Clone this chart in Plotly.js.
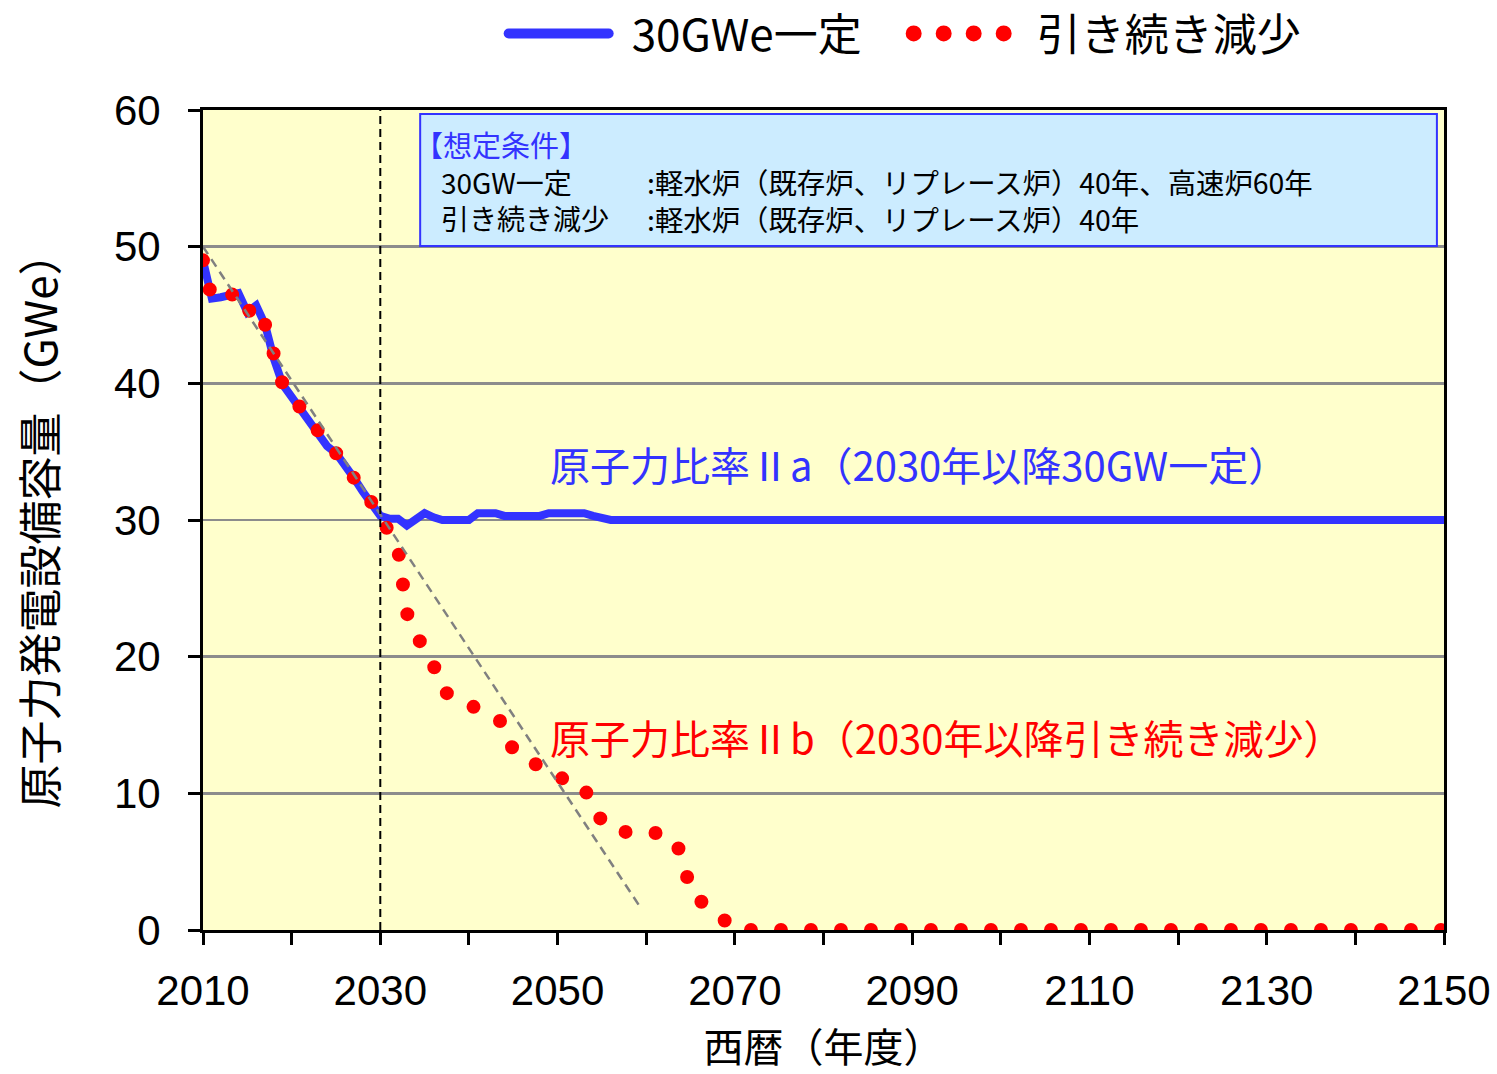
<!DOCTYPE html>
<html><head><meta charset="utf-8">
<script src="https://cdn.plot.ly/plotly-3.0.1.min.js"></script>
<style>body{margin:0;background:#fff}#chart{width:1497px;height:1074px}</style>
</head><body><div id="chart"></div>
<script>
// ---- data ----
const seriesNames = ['30GWe一定', '引き続き減少'];
const blueYears = [2010,2011,2012,2013,2014,2015,2016,2017,2018,2019,2020,2021,2022,2023,2024,2025,2026,2027,2028,2029,2030,
  2031,2032,2033,2034,2035,2036,2037,2038,2039,2040,2041,2042,2043,2044,2045,2046,2047,2048,2049,2050,2051,2052,2053,2054,2055,2056,2150];
const blueValues = [49.0,46.2,46.3,46.4,46.6,45.2,45.7,44.3,41.8,39.9,39.0,38.3,37.4,36.5,35.4,34.9,34.1,33.1,32.1,31.3,30.3,
  30.1,30.1,29.6,30.1,30.5,30.2,30.0,30.0,30.0,30.0,30.5,30.5,30.5,30.3,30.3,30.3,30.3,30.3,30.5,30.5,30.5,30.5,30.5,30.3,30.2,30.0,30.0];
const redYears = [2010,2011,2012,2013,2014,2015,2016,2017,2018,2019,2020,2021,2022,2023,2024,2025,2026,2027,2028,2029,2030,
  2031,2032,2033,2034,2035,2036,2037,2038,2039,2040,2041,2042,2043,2044,2045,2046,2047,2048,2049,2050,
  2051,2052,2053,2054,2055,2056,2057,2058,2059,2060,2061,2062,2063,2064,2065,2066,2067,2068,2069,2070,2150];
const redValues = [49.0,46.2,46.3,46.4,46.6,45.2,45.7,44.3,41.8,39.9,39.0,38.3,37.4,36.5,35.4,34.9,34.1,33.1,32.1,31.3,30.3,
  29.0,27.9,23.2,21.5,20.7,19.4,17.5,17.2,16.9,16.6,16.3,15.9,15.5,15.1,13.1,12.7,12.3,11.9,11.4,11.2,
  11.0,10.8,10.5,8.7,7.9,7.4,7.2,7.1,7.1,7.1,7.1,7.1,6.6,5.6,2.8,2.1,1.6,1.2,0.5,0.0,0.0];
const trendYears = [2010, 2059.4];
const trendValues = [50, 1.6];
const splitYear = 2030;
const xTickVals = [2010,2030,2050,2070,2090,2110,2130,2150];
const yTickVals = [0,10,20,30,40,50,60];
const labelA = '原子力比率Ⅱa（2030年以降30GW一定）';
const labelB = '原子力比率Ⅱb（2030年以降引き続き減少）';
const boxTitle = '【想定条件】';
const boxKeys = ['30GW一定', '引き続き減少'];
const boxVals = [':軽水炉（既存炉、リプレース炉）40年、高速炉60年', ':軽水炉（既存炉、リプレース炉）40年'];

// ---- chart ----
const CJK = '"Noto Sans CJK JP", "Noto Sans", sans-serif';
const LAT = '"Liberation Sans", Arial, sans-serif';
const BLUE = '#3333FF', RED = '#FF0000';

const data = [
  {x: blueYears, y: blueValues, type: 'scatter', mode: 'lines', name: seriesNames[0],
   line: {color: BLUE, width: 8}},
  {x: redYears, y: redValues, type: 'scatter', mode: 'lines', name: seriesNames[1],
   line: {color: RED, width: 14, dash: '0px,30px'}},
  {x: trendYears, y: trendValues, type: 'scatter', mode: 'lines', showlegend: false, hoverinfo: 'skip',
   line: {color: '#808080', width: 2.5, dash: '9px,6px'}}
];

const layout = {
  width: 1497, height: 1074,
  margin: {l: 203, r: 53, t: 110, b: 144},
  paper_bgcolor: '#ffffff', plot_bgcolor: '#FFFFCC',
  showlegend: true,
  legend: {orientation: 'h', xref: 'container', yref: 'container', x: 0.607, xanchor: 'center',
    y: 0.9685, yanchor: 'middle', font: {family: CJK, size: 44, color: '#000'},
    itemwidth: 100, entrywidth: 290, entrywidthmode: 'pixels',
    bgcolor: 'rgba(0,0,0,0)', traceorder: 'normal'},
  xaxis: {range: [2010, 2150], tickvals: xTickVals, ticks: 'outside', ticklen: 12, tickwidth: 3,
    tickcolor: '#000', showline: true, linewidth: 3, linecolor: '#000', mirror: true,
    showgrid: false, zeroline: false, ticklabelstandoff: 10,
    tickfont: {family: LAT, size: 42, color: '#000'},
    minor: {dtick: 10, ticks: 'outside', ticklen: 12, tickwidth: 3, tickcolor: '#000', showgrid: false},
    title: {text: '西暦（年度）', font: {family: CJK, size: 40, color: '#000'}, standoff: 22}},
  yaxis: {range: [0, 60], tickvals: yTickVals, ticks: 'outside', ticklen: 12, tickwidth: 3,
    tickcolor: '#000', showline: true, linewidth: 3, linecolor: '#000', mirror: true,
    showgrid: true, gridcolor: '#8c8c8c', gridwidth: 2.5, zeroline: false,
    ticklabelstandoff: 19,
    tickfont: {family: LAT, size: 42, color: '#000'},
    title: {text: '原子力発電設備容量（GWe）', font: {family: CJK, size: 44, color: '#000'}, standoff: 43}},
  shapes: [
    {type: 'rect', xref: 'x', yref: 'y', x0: 2034.5, x1: 2149.2, y0: 50.05, y1: 59.7,
     fillcolor: '#CCECFF', line: {color: BLUE, width: 2}, layer: 'above'},
    {type: 'line', xref: 'x', yref: 'paper', x0: splitYear, x1: splitYear, y0: 0, y1: 1,
     line: {color: '#000', width: 2, dash: '8px,5px'}, layer: 'above'}
  ],
  annotations: [
    {xref: 'x', yref: 'y', x: 2048.9, y: 34.1, xanchor: 'left', yanchor: 'middle', showarrow: false,
     text: labelA, font: {family: CJK, size: 40, color: BLUE}},
    {xref: 'x', yref: 'y', x: 2048.9, y: 14.1, xanchor: 'left', yanchor: 'middle', showarrow: false,
     text: labelB, font: {family: CJK, size: 40, color: RED}},
    {xref: 'x', yref: 'y', x: 2033.6, y: 57.48, xanchor: 'left', yanchor: 'middle', showarrow: false,
     text: boxTitle, font: {family: CJK, size: 29, color: BLUE}},
    {xref: 'x', yref: 'y', x: 2036.6, y: 53.42, xanchor: 'left', yanchor: 'middle', showarrow: false, align: 'left',
     text: boxKeys.join('<br>'), font: {family: CJK, size: 28, color: '#000'}},
    {xref: 'x', yref: 'y', x: 2059.9, y: 53.42, xanchor: 'left', yanchor: 'middle', showarrow: false, align: 'left',
     text: boxVals.join('<br>'), font: {family: CJK, size: 28.4, color: '#000'}}
  ]
};

Plotly.newPlot('chart', data, layout, {staticPlot: true, displayModeBar: false}).then(function (gd) {
  const traces = gd.querySelectorAll('.scatterlayer .trace');
  if (traces[1]) traces[1].querySelectorAll('path.js-line').forEach(p => { p.style.strokeLinecap = 'round'; });
  const sb = gd.querySelector('.legend .scrollbox');
  if (sb) sb.removeAttribute('clip-path');
  const bg = gd.querySelector('.legend rect.bg');
  if (bg) bg.setAttribute('width', String(parseFloat(bg.getAttribute('width') || '0') + 30));
  const leg = gd.querySelectorAll('.legend .traces');
  const legW = [10, 16];
  leg.forEach((g, i) => {
    g.querySelectorAll('path.js-line').forEach(p => {
      p.style.strokeLinecap = 'round';
      p.style.strokeWidth = legW[i] + 'px';
    });
    const t = g.querySelector('text.legendtext');
    if (t) t.setAttribute('x', String(parseFloat(t.getAttribute('x') || '0') + 18));
  });
});
</script>
</body></html>
